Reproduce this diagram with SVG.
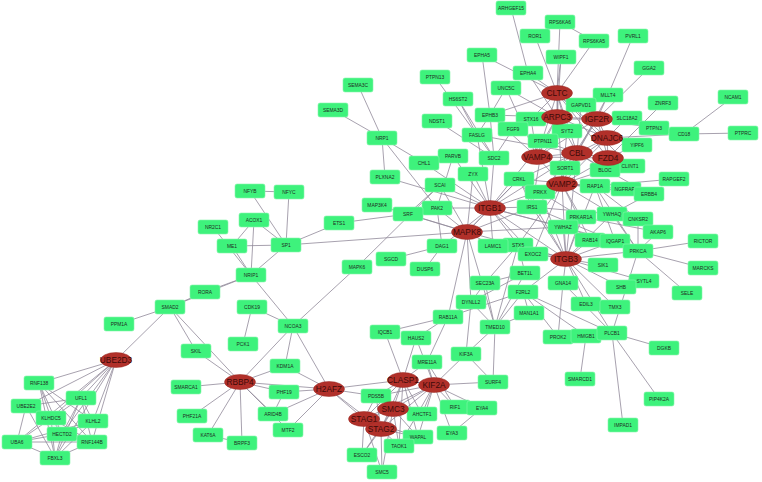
<svg xmlns="http://www.w3.org/2000/svg" width="762" height="482" viewBox="0 0 762 482">
<style>
.e line{stroke:#918999;stroke-width:0.8}
.n rect{fill:#3ef27c;stroke:#86f5ab;stroke-width:0.6}
.n text{font-family:"Liberation Sans",Arial,sans-serif;font-size:4.9px;fill:#1e2a22;text-anchor:middle}
.h ellipse{fill:#b1302a;stroke:#9a2822;stroke-width:0.5}
.h text{font-family:"Liberation Sans",Arial,sans-serif;font-size:8.3px;fill:#3d0a08;text-anchor:middle}
</style>
<rect width="762" height="482" fill="#ffffff"/>
<g id="connectors" class="e">
<line x1="511" y1="8" x2="528" y2="73"/><line x1="535" y1="36" x2="557" y2="93"/><line x1="560" y1="22" x2="557" y2="93"/><line x1="560" y1="22" x2="594" y2="41"/><line x1="594" y1="41" x2="557" y2="93"/><line x1="561" y1="57" x2="557" y2="93"/><line x1="561" y1="57" x2="557" y2="117"/><line x1="528" y1="73" x2="557" y2="93"/><line x1="528" y1="73" x2="557" y2="117"/><line x1="633" y1="36" x2="608" y2="95"/><line x1="649" y1="68" x2="597" y2="119"/><line x1="608" y1="95" x2="597" y2="119"/><line x1="608" y1="95" x2="577" y2="153"/><line x1="663" y1="103" x2="608" y2="158"/><line x1="733" y1="97" x2="684" y2="134"/><line x1="684" y1="134" x2="743" y2="133"/><line x1="684" y1="134" x2="607" y2="138"/><line x1="654" y1="128" x2="597" y2="119"/><line x1="627" y1="118" x2="597" y2="119"/><line x1="627" y1="118" x2="607" y2="138"/><line x1="482" y1="55" x2="490" y2="115"/><line x1="482" y1="55" x2="557" y2="93"/><line x1="506" y1="88" x2="490" y2="115"/><line x1="506" y1="88" x2="537" y2="157"/><line x1="506" y1="88" x2="557" y2="117"/><line x1="435" y1="77" x2="477" y2="135"/><line x1="458" y1="99" x2="477" y2="135"/><line x1="458" y1="99" x2="494" y2="158"/><line x1="437" y1="121" x2="494" y2="158"/><line x1="490" y1="115" x2="477" y2="135"/><line x1="490" y1="115" x2="494" y2="158"/><line x1="490" y1="115" x2="557" y2="93"/><line x1="490" y1="115" x2="557" y2="117"/><line x1="490" y1="115" x2="537" y2="157"/><line x1="477" y1="135" x2="490" y2="208"/><line x1="477" y1="135" x2="577" y2="153"/><line x1="513" y1="129" x2="494" y2="158"/><line x1="513" y1="129" x2="557" y2="117"/><line x1="531" y1="119" x2="557" y2="93"/><line x1="531" y1="119" x2="537" y2="157"/><line x1="531" y1="119" x2="597" y2="119"/><line x1="581" y1="105" x2="557" y2="93"/><line x1="581" y1="105" x2="597" y2="119"/><line x1="581" y1="105" x2="577" y2="153"/><line x1="567" y1="131" x2="557" y2="93"/><line x1="567" y1="131" x2="537" y2="157"/><line x1="567" y1="131" x2="562" y2="184"/><line x1="543" y1="141" x2="577" y2="153"/><line x1="543" y1="141" x2="490" y2="208"/><line x1="543" y1="141" x2="532" y2="207"/><line x1="543" y1="141" x2="557" y2="117"/><line x1="557" y1="117" x2="557" y2="93"/><line x1="557" y1="117" x2="597" y2="119"/><line x1="557" y1="117" x2="577" y2="153"/><line x1="557" y1="117" x2="537" y2="157"/><line x1="557" y1="117" x2="607" y2="138"/><line x1="557" y1="93" x2="597" y2="119"/><line x1="557" y1="93" x2="577" y2="153"/><line x1="557" y1="93" x2="607" y2="138"/><line x1="557" y1="93" x2="537" y2="157"/><line x1="557" y1="93" x2="562" y2="184"/><line x1="557" y1="93" x2="608" y2="158"/><line x1="597" y1="119" x2="607" y2="138"/><line x1="597" y1="119" x2="577" y2="153"/><line x1="597" y1="119" x2="537" y2="157"/><line x1="597" y1="119" x2="608" y2="158"/><line x1="597" y1="119" x2="565" y2="168"/><line x1="607" y1="138" x2="577" y2="153"/><line x1="607" y1="138" x2="608" y2="158"/><line x1="607" y1="138" x2="562" y2="184"/><line x1="607" y1="138" x2="637" y2="145"/><line x1="607" y1="138" x2="565" y2="168"/><line x1="577" y1="153" x2="537" y2="157"/><line x1="577" y1="153" x2="608" y2="158"/><line x1="577" y1="153" x2="562" y2="184"/><line x1="577" y1="153" x2="519" y2="179"/><line x1="577" y1="153" x2="490" y2="208"/><line x1="577" y1="153" x2="566" y2="259"/><line x1="577" y1="153" x2="540" y2="192"/><line x1="537" y1="157" x2="562" y2="184"/><line x1="537" y1="157" x2="565" y2="168"/><line x1="537" y1="157" x2="608" y2="158"/><line x1="608" y1="158" x2="562" y2="184"/><line x1="608" y1="158" x2="630" y2="166"/><line x1="608" y1="158" x2="637" y2="145"/><line x1="630" y1="166" x2="557" y2="93"/><line x1="605" y1="170" x2="577" y2="153"/><line x1="605" y1="170" x2="562" y2="184"/><line x1="565" y1="168" x2="562" y2="184"/><line x1="562" y1="184" x2="540" y2="192"/><line x1="562" y1="184" x2="595" y2="186"/><line x1="562" y1="184" x2="626" y2="189"/><line x1="562" y1="184" x2="649" y2="194"/><line x1="562" y1="184" x2="566" y2="259"/><line x1="562" y1="184" x2="490" y2="208"/><line x1="562" y1="184" x2="581" y2="217"/><line x1="562" y1="184" x2="533" y2="254"/><line x1="562" y1="184" x2="518" y2="245"/><line x1="562" y1="184" x2="612" y2="214"/><line x1="595" y1="186" x2="674" y2="179"/><line x1="595" y1="186" x2="519" y2="179"/><line x1="595" y1="186" x2="566" y2="259"/><line x1="595" y1="186" x2="638" y2="219"/><line x1="595" y1="186" x2="615" y2="241"/><line x1="595" y1="186" x2="638" y2="251"/><line x1="649" y1="194" x2="577" y2="153"/><line x1="649" y1="194" x2="612" y2="214"/><line x1="612" y1="214" x2="638" y2="251"/><line x1="612" y1="214" x2="638" y2="219"/><line x1="612" y1="214" x2="532" y2="207"/><line x1="612" y1="214" x2="566" y2="259"/><line x1="638" y1="219" x2="638" y2="251"/><line x1="658" y1="232" x2="638" y2="251"/><line x1="658" y1="232" x2="581" y2="217"/><line x1="581" y1="217" x2="540" y2="192"/><line x1="581" y1="217" x2="566" y2="259"/><line x1="519" y1="179" x2="490" y2="208"/><line x1="519" y1="179" x2="532" y2="207"/><line x1="519" y1="179" x2="467" y2="232"/><line x1="519" y1="179" x2="566" y2="259"/><line x1="540" y1="192" x2="566" y2="259"/><line x1="532" y1="207" x2="490" y2="208"/><line x1="532" y1="207" x2="566" y2="259"/><line x1="532" y1="207" x2="467" y2="232"/><line x1="532" y1="207" x2="638" y2="251"/><line x1="563" y1="227" x2="566" y2="259"/><line x1="563" y1="227" x2="490" y2="208"/><line x1="563" y1="227" x2="467" y2="232"/><line x1="563" y1="227" x2="638" y2="251"/><line x1="590" y1="240" x2="566" y2="259"/><line x1="590" y1="240" x2="562" y2="184"/><line x1="615" y1="241" x2="566" y2="259"/><line x1="615" y1="241" x2="638" y2="251"/><line x1="615" y1="241" x2="490" y2="208"/><line x1="638" y1="251" x2="703" y2="241"/><line x1="638" y1="251" x2="703" y2="268"/><line x1="638" y1="251" x2="687" y2="293"/><line x1="638" y1="251" x2="612" y2="333"/><line x1="638" y1="251" x2="566" y2="259"/><line x1="603" y1="265" x2="566" y2="259"/><line x1="621" y1="287" x2="566" y2="259"/><line x1="644" y1="281" x2="566" y2="259"/><line x1="615" y1="307" x2="566" y2="259"/><line x1="586" y1="304" x2="566" y2="259"/><line x1="563" y1="283" x2="566" y2="259"/><line x1="563" y1="283" x2="612" y2="333"/><line x1="563" y1="283" x2="558" y2="337"/><line x1="566" y1="259" x2="533" y2="254"/><line x1="566" y1="259" x2="518" y2="245"/><line x1="566" y1="259" x2="523" y2="292"/><line x1="566" y1="259" x2="490" y2="208"/><line x1="566" y1="259" x2="467" y2="232"/><line x1="566" y1="259" x2="612" y2="333"/><line x1="612" y1="333" x2="664" y2="348"/><line x1="612" y1="333" x2="659" y2="399"/><line x1="612" y1="333" x2="623" y2="425"/><line x1="612" y1="333" x2="523" y2="292"/><line x1="586" y1="336" x2="580" y2="379"/><line x1="586" y1="336" x2="523" y2="292"/><line x1="558" y1="337" x2="523" y2="292"/><line x1="523" y1="292" x2="529" y2="313"/><line x1="523" y1="292" x2="495" y2="327"/><line x1="525" y1="273" x2="518" y2="245"/><line x1="525" y1="273" x2="485" y2="283"/><line x1="525" y1="273" x2="495" y2="327"/><line x1="518" y1="245" x2="485" y2="283"/><line x1="518" y1="245" x2="495" y2="327"/><line x1="518" y1="245" x2="490" y2="208"/><line x1="533" y1="254" x2="490" y2="208"/><line x1="485" y1="283" x2="495" y2="327"/><line x1="485" y1="283" x2="471" y2="302"/><line x1="493" y1="246" x2="490" y2="208"/><line x1="493" y1="246" x2="467" y2="232"/><line x1="493" y1="246" x2="566" y2="259"/><line x1="442" y1="246" x2="391" y2="259"/><line x1="442" y1="246" x2="425" y2="269"/><line x1="442" y1="246" x2="490" y2="208"/><line x1="442" y1="246" x2="437" y2="208"/><line x1="437" y1="208" x2="490" y2="208"/><line x1="437" y1="208" x2="467" y2="232"/><line x1="437" y1="208" x2="408" y2="214"/><line x1="437" y1="208" x2="453" y2="156"/><line x1="437" y1="208" x2="382" y2="138"/><line x1="440" y1="185" x2="408" y2="214"/><line x1="440" y1="185" x2="490" y2="208"/><line x1="440" y1="185" x2="467" y2="232"/><line x1="473" y1="174" x2="490" y2="208"/><line x1="473" y1="174" x2="467" y2="232"/><line x1="453" y1="156" x2="490" y2="208"/><line x1="424" y1="163" x2="382" y2="138"/><line x1="424" y1="163" x2="490" y2="208"/><line x1="494" y1="158" x2="490" y2="208"/><line x1="494" y1="158" x2="477" y2="135"/><line x1="408" y1="214" x2="467" y2="232"/><line x1="408" y1="214" x2="339" y2="223"/><line x1="377" y1="205" x2="467" y2="232"/><line x1="385" y1="177" x2="382" y2="138"/><line x1="385" y1="177" x2="490" y2="208"/><line x1="382" y1="138" x2="358" y2="85"/><line x1="382" y1="138" x2="333" y2="110"/><line x1="467" y1="232" x2="286" y2="245"/><line x1="467" y1="232" x2="490" y2="208"/><line x1="467" y1="232" x2="448" y2="317"/><line x1="467" y1="232" x2="471" y2="302"/><line x1="467" y1="232" x2="495" y2="327"/><line x1="357" y1="267" x2="440" y2="185"/><line x1="357" y1="267" x2="293" y2="326"/><line x1="286" y1="245" x2="250" y2="191"/><line x1="286" y1="245" x2="289" y2="192"/><line x1="286" y1="245" x2="232" y2="246"/><line x1="286" y1="245" x2="251" y2="275"/><line x1="286" y1="245" x2="339" y2="223"/><line x1="286" y1="245" x2="254" y2="220"/><line x1="250" y1="191" x2="289" y2="192"/><line x1="254" y1="220" x2="232" y2="246"/><line x1="254" y1="220" x2="251" y2="275"/><line x1="213" y1="227" x2="251" y2="275"/><line x1="232" y1="246" x2="251" y2="275"/><line x1="251" y1="275" x2="205" y2="292"/><line x1="251" y1="275" x2="170" y2="307"/><line x1="251" y1="275" x2="293" y2="326"/><line x1="205" y1="292" x2="170" y2="307"/><line x1="170" y1="307" x2="119" y2="324"/><line x1="170" y1="307" x2="116" y2="360"/><line x1="170" y1="307" x2="196" y2="351"/><line x1="170" y1="307" x2="240" y2="382"/><line x1="252" y1="307" x2="243" y2="344"/><line x1="252" y1="307" x2="293" y2="326"/><line x1="293" y1="326" x2="240" y2="382"/><line x1="293" y1="326" x2="329" y2="389"/><line x1="293" y1="326" x2="285" y2="366"/><line x1="196" y1="351" x2="240" y2="382"/><line x1="240" y1="382" x2="186" y2="387"/><line x1="240" y1="382" x2="192" y2="416"/><line x1="240" y1="382" x2="208" y2="435"/><line x1="240" y1="382" x2="242" y2="443"/><line x1="240" y1="382" x2="273" y2="414"/><line x1="240" y1="382" x2="284" y2="392"/><line x1="240" y1="382" x2="285" y2="366"/><line x1="240" y1="382" x2="329" y2="389"/><line x1="240" y1="382" x2="288" y2="430"/><line x1="329" y1="389" x2="285" y2="366"/><line x1="329" y1="389" x2="284" y2="392"/><line x1="329" y1="389" x2="288" y2="430"/><line x1="329" y1="389" x2="273" y2="414"/><line x1="329" y1="389" x2="403" y2="380"/><line x1="329" y1="389" x2="364" y2="419"/><line x1="329" y1="389" x2="381" y2="429"/><line x1="329" y1="389" x2="376" y2="396"/><line x1="284" y1="392" x2="273" y2="414"/><line x1="208" y1="435" x2="242" y2="443"/><line x1="116" y1="360" x2="39" y2="383"/><line x1="116" y1="360" x2="81" y2="398"/><line x1="116" y1="360" x2="51" y2="418"/><line x1="116" y1="360" x2="93" y2="421"/><line x1="116" y1="360" x2="62" y2="434"/><line x1="116" y1="360" x2="17" y2="442"/><line x1="116" y1="360" x2="92" y2="442"/><line x1="116" y1="360" x2="55" y2="458"/><line x1="116" y1="360" x2="26" y2="406"/><line x1="39" y1="383" x2="51" y2="418"/><line x1="39" y1="383" x2="62" y2="434"/><line x1="39" y1="383" x2="93" y2="421"/><line x1="39" y1="383" x2="55" y2="458"/><line x1="39" y1="383" x2="92" y2="442"/><line x1="26" y1="406" x2="17" y2="442"/><line x1="26" y1="406" x2="51" y2="418"/><line x1="26" y1="406" x2="55" y2="458"/><line x1="26" y1="406" x2="81" y2="398"/><line x1="81" y1="398" x2="17" y2="442"/><line x1="81" y1="398" x2="93" y2="421"/><line x1="81" y1="398" x2="62" y2="434"/><line x1="81" y1="398" x2="55" y2="458"/><line x1="81" y1="398" x2="92" y2="442"/><line x1="51" y1="418" x2="62" y2="434"/><line x1="51" y1="418" x2="55" y2="458"/><line x1="51" y1="418" x2="92" y2="442"/><line x1="93" y1="421" x2="62" y2="434"/><line x1="93" y1="421" x2="55" y2="458"/><line x1="93" y1="421" x2="17" y2="442"/><line x1="62" y1="434" x2="17" y2="442"/><line x1="62" y1="434" x2="55" y2="458"/><line x1="62" y1="434" x2="92" y2="442"/><line x1="17" y1="442" x2="92" y2="442"/><line x1="17" y1="442" x2="55" y2="458"/><line x1="92" y1="442" x2="55" y2="458"/><line x1="403" y1="380" x2="434" y2="385"/><line x1="403" y1="380" x2="427" y2="362"/><line x1="403" y1="380" x2="385" y2="332"/><line x1="403" y1="380" x2="416" y2="338"/><line x1="403" y1="380" x2="393" y2="409"/><line x1="403" y1="380" x2="364" y2="419"/><line x1="403" y1="380" x2="381" y2="429"/><line x1="403" y1="380" x2="376" y2="396"/><line x1="403" y1="380" x2="422" y2="414"/><line x1="403" y1="380" x2="418" y2="437"/><line x1="403" y1="380" x2="399" y2="446"/><line x1="434" y1="385" x2="427" y2="362"/><line x1="434" y1="385" x2="466" y2="354"/><line x1="434" y1="385" x2="493" y2="382"/><line x1="434" y1="385" x2="455" y2="407"/><line x1="434" y1="385" x2="482" y2="408"/><line x1="434" y1="385" x2="452" y2="433"/><line x1="434" y1="385" x2="422" y2="414"/><line x1="434" y1="385" x2="418" y2="437"/><line x1="434" y1="385" x2="393" y2="409"/><line x1="434" y1="385" x2="381" y2="429"/><line x1="434" y1="385" x2="399" y2="446"/><line x1="434" y1="385" x2="376" y2="396"/><line x1="434" y1="385" x2="416" y2="338"/><line x1="434" y1="385" x2="364" y2="419"/><line x1="393" y1="409" x2="364" y2="419"/><line x1="393" y1="409" x2="381" y2="429"/><line x1="393" y1="409" x2="376" y2="396"/><line x1="393" y1="409" x2="418" y2="437"/><line x1="393" y1="409" x2="362" y2="455"/><line x1="393" y1="409" x2="382" y2="472"/><line x1="393" y1="409" x2="422" y2="414"/><line x1="393" y1="409" x2="399" y2="446"/><line x1="364" y1="419" x2="381" y2="429"/><line x1="364" y1="419" x2="376" y2="396"/><line x1="364" y1="419" x2="362" y2="455"/><line x1="364" y1="419" x2="382" y2="472"/><line x1="364" y1="419" x2="418" y2="437"/><line x1="381" y1="429" x2="362" y2="455"/><line x1="381" y1="429" x2="382" y2="472"/><line x1="381" y1="429" x2="418" y2="437"/><line x1="381" y1="429" x2="399" y2="446"/><line x1="381" y1="429" x2="376" y2="396"/><line x1="482" y1="408" x2="452" y2="433"/><line x1="455" y1="407" x2="427" y2="362"/><line x1="427" y1="362" x2="448" y2="317"/><line x1="466" y1="354" x2="493" y2="382"/><line x1="466" y1="354" x2="495" y2="327"/><line x1="466" y1="354" x2="471" y2="302"/><line x1="495" y1="327" x2="493" y2="382"/><line x1="495" y1="327" x2="471" y2="302"/><line x1="495" y1="327" x2="529" y2="313"/><line x1="448" y1="317" x2="385" y2="332"/><line x1="448" y1="317" x2="471" y2="302"/><line x1="448" y1="317" x2="523" y2="292"/><line x1="448" y1="317" x2="416" y2="338"/><line x1="471" y1="302" x2="525" y2="273"/>
</g>
<g id="nodes">
<g id="n-ARHGEF15" class="n"><rect x="496" y="1" width="30" height="14" rx="2"/><text x="511" y="9.7">ARHGEF15</text></g>
<g id="n-RPS6KA6" class="n"><rect x="545" y="15" width="30" height="14" rx="2"/><text x="560" y="23.7">RPS6KA6</text></g>
<g id="n-ROR1" class="n"><rect x="520" y="29" width="30" height="14" rx="2"/><text x="535" y="37.7">ROR1</text></g>
<g id="n-RPS6KA5" class="n"><rect x="579" y="34" width="30" height="14" rx="2"/><text x="594" y="42.7">RPS6KA5</text></g>
<g id="n-PVRL1" class="n"><rect x="618" y="29" width="30" height="14" rx="2"/><text x="633" y="37.7">PVRL1</text></g>
<g id="n-WIPF1" class="n"><rect x="546" y="50" width="30" height="14" rx="2"/><text x="561" y="58.7">WIPF1</text></g>
<g id="n-EPHA5" class="n"><rect x="467" y="48" width="30" height="14" rx="2"/><text x="482" y="56.7">EPHA5</text></g>
<g id="n-GGA2" class="n"><rect x="634" y="61" width="30" height="14" rx="2"/><text x="649" y="69.7">GGA2</text></g>
<g id="n-EPHA4" class="n"><rect x="513" y="66" width="30" height="14" rx="2"/><text x="528" y="74.7">EPHA4</text></g>
<g id="n-PTPN13" class="n"><rect x="420" y="70" width="30" height="14" rx="2"/><text x="435" y="78.7">PTPN13</text></g>
<g id="n-SEMA3C" class="n"><rect x="343" y="78" width="30" height="14" rx="2"/><text x="358" y="86.7">SEMA3C</text></g>
<g id="n-UNC5C" class="n"><rect x="491" y="81" width="30" height="14" rx="2"/><text x="506" y="89.7">UNC5C</text></g>
<g id="n-MLLT4" class="n"><rect x="593" y="88" width="30" height="14" rx="2"/><text x="608" y="96.7">MLLT4</text></g>
<g id="n-NCAM1" class="n"><rect x="718" y="90" width="30" height="14" rx="2"/><text x="733" y="98.7">NCAM1</text></g>
<g id="n-HS6ST2" class="n"><rect x="443" y="92" width="30" height="14" rx="2"/><text x="458" y="100.7">HS6ST2</text></g>
<g id="n-GAPVD1" class="n"><rect x="566" y="98" width="30" height="14" rx="2"/><text x="581" y="106.7">GAPVD1</text></g>
<g id="n-ZNRF3" class="n"><rect x="648" y="96" width="30" height="14" rx="2"/><text x="663" y="104.7">ZNRF3</text></g>
<g id="n-SEMA3D" class="n"><rect x="318" y="103" width="30" height="14" rx="2"/><text x="333" y="111.7">SEMA3D</text></g>
<g id="n-EPHB3" class="n"><rect x="475" y="108" width="30" height="14" rx="2"/><text x="490" y="116.7">EPHB3</text></g>
<g id="n-STX16" class="n"><rect x="516" y="112" width="30" height="14" rx="2"/><text x="531" y="120.7">STX16</text></g>
<g id="n-SLC18A2" class="n"><rect x="612" y="111" width="30" height="14" rx="2"/><text x="627" y="119.7">SLC18A2</text></g>
<g id="n-NDST1" class="n"><rect x="422" y="114" width="30" height="14" rx="2"/><text x="437" y="122.7">NDST1</text></g>
<g id="n-FGF9" class="n"><rect x="498" y="122" width="30" height="14" rx="2"/><text x="513" y="130.7">FGF9</text></g>
<g id="n-SYT2" class="n"><rect x="552" y="124" width="30" height="14" rx="2"/><text x="567" y="132.7">SYT2</text></g>
<g id="n-PTPN3" class="n"><rect x="639" y="121" width="30" height="14" rx="2"/><text x="654" y="129.7">PTPN3</text></g>
<g id="n-CD18" class="n"><rect x="669" y="127" width="30" height="14" rx="2"/><text x="684" y="135.7">CD18</text></g>
<g id="n-PTPRC" class="n"><rect x="728" y="126" width="30" height="14" rx="2"/><text x="743" y="134.7">PTPRC</text></g>
<g id="n-FASLG" class="n"><rect x="462" y="128" width="30" height="14" rx="2"/><text x="477" y="136.7">FASLG</text></g>
<g id="n-NRP1" class="n"><rect x="367" y="131" width="30" height="14" rx="2"/><text x="382" y="139.7">NRP1</text></g>
<g id="n-PTPN11" class="n"><rect x="528" y="134" width="30" height="14" rx="2"/><text x="543" y="142.7">PTPN11</text></g>
<g id="n-YIPF6" class="n"><rect x="622" y="138" width="30" height="14" rx="2"/><text x="637" y="146.7">YIPF6</text></g>
<g id="n-PARVB" class="n"><rect x="438" y="149" width="30" height="14" rx="2"/><text x="453" y="157.7">PARVB</text></g>
<g id="n-SDC2" class="n"><rect x="479" y="151" width="30" height="14" rx="2"/><text x="494" y="159.7">SDC2</text></g>
<g id="n-CHL1" class="n"><rect x="409" y="156" width="30" height="14" rx="2"/><text x="424" y="164.7">CHL1</text></g>
<g id="n-CLINT1" class="n"><rect x="615" y="159" width="30" height="14" rx="2"/><text x="630" y="167.7">CLINT1</text></g>
<g id="n-SORT1" class="n"><rect x="550" y="161" width="30" height="14" rx="2"/><text x="565" y="169.7">SORT1</text></g>
<g id="n-BLOC" class="n"><rect x="590" y="163" width="30" height="14" rx="2"/><text x="605" y="171.7">BLOC</text></g>
<g id="n-ZYX" class="n"><rect x="458" y="167" width="30" height="14" rx="2"/><text x="473" y="175.7">ZYX</text></g>
<g id="n-PLXNA2" class="n"><rect x="370" y="170" width="30" height="14" rx="2"/><text x="385" y="178.7">PLXNA2</text></g>
<g id="n-CRKL" class="n"><rect x="504" y="172" width="30" height="14" rx="2"/><text x="519" y="180.7">CRKL</text></g>
<g id="n-RAPGEF2" class="n"><rect x="659" y="172" width="30" height="14" rx="2"/><text x="674" y="180.7">RAPGEF2</text></g>
<g id="n-SCAI" class="n"><rect x="425" y="178" width="30" height="14" rx="2"/><text x="440" y="186.7">SCAI</text></g>
<g id="n-RAP1A" class="n"><rect x="580" y="179" width="30" height="14" rx="2"/><text x="595" y="187.7">RAP1A</text></g>
<g id="n-NGFRAP1" class="n"><rect x="611" y="182" width="30" height="14" rx="2"/><text x="626" y="190.7">NGFRAP1</text></g>
<g id="n-NFYB" class="n"><rect x="235" y="184" width="30" height="14" rx="2"/><text x="250" y="192.7">NFYB</text></g>
<g id="n-NFYC" class="n"><rect x="274" y="185" width="30" height="14" rx="2"/><text x="289" y="193.7">NFYC</text></g>
<g id="n-PRKX" class="n"><rect x="525" y="185" width="30" height="14" rx="2"/><text x="540" y="193.7">PRKX</text></g>
<g id="n-ERBB4" class="n"><rect x="634" y="187" width="30" height="14" rx="2"/><text x="649" y="195.7">ERBB4</text></g>
<g id="n-MAP3K4" class="n"><rect x="362" y="198" width="30" height="14" rx="2"/><text x="377" y="206.7">MAP3K4</text></g>
<g id="n-IRS1" class="n"><rect x="517" y="200" width="30" height="14" rx="2"/><text x="532" y="208.7">IRS1</text></g>
<g id="n-PAK2" class="n"><rect x="422" y="201" width="30" height="14" rx="2"/><text x="437" y="209.7">PAK2</text></g>
<g id="n-SRF" class="n"><rect x="393" y="207" width="30" height="14" rx="2"/><text x="408" y="215.7">SRF</text></g>
<g id="n-YWHAQ" class="n"><rect x="597" y="207" width="30" height="14" rx="2"/><text x="612" y="215.7">YWHAQ</text></g>
<g id="n-PRKAR1A" class="n"><rect x="566" y="210" width="30" height="14" rx="2"/><text x="581" y="218.7">PRKAR1A</text></g>
<g id="n-CNKSR2" class="n"><rect x="623" y="212" width="30" height="14" rx="2"/><text x="638" y="220.7">CNKSR2</text></g>
<g id="n-ACOX1" class="n"><rect x="239" y="213" width="30" height="14" rx="2"/><text x="254" y="221.7">ACOX1</text></g>
<g id="n-ETS1" class="n"><rect x="324" y="216" width="30" height="14" rx="2"/><text x="339" y="224.7">ETS1</text></g>
<g id="n-NR2C1" class="n"><rect x="198" y="220" width="30" height="14" rx="2"/><text x="213" y="228.7">NR2C1</text></g>
<g id="n-YWHAZ" class="n"><rect x="548" y="220" width="30" height="14" rx="2"/><text x="563" y="228.7">YWHAZ</text></g>
<g id="n-AKAP6" class="n"><rect x="643" y="225" width="30" height="14" rx="2"/><text x="658" y="233.7">AKAP6</text></g>
<g id="n-RAB14" class="n"><rect x="575" y="233" width="30" height="14" rx="2"/><text x="590" y="241.7">RAB14</text></g>
<g id="n-IQGAP1" class="n"><rect x="600" y="234" width="30" height="14" rx="2"/><text x="615" y="242.7">IQGAP1</text></g>
<g id="n-RICTOR" class="n"><rect x="688" y="234" width="30" height="14" rx="2"/><text x="703" y="242.7">RICTOR</text></g>
<g id="n-SP1" class="n"><rect x="271" y="238" width="30" height="14" rx="2"/><text x="286" y="246.7">SP1</text></g>
<g id="n-STX5" class="n"><rect x="503" y="238" width="30" height="14" rx="2"/><text x="518" y="246.7">STX5</text></g>
<g id="n-ME1" class="n"><rect x="217" y="239" width="30" height="14" rx="2"/><text x="232" y="247.7">ME1</text></g>
<g id="n-DAG1" class="n"><rect x="427" y="239" width="30" height="14" rx="2"/><text x="442" y="247.7">DAG1</text></g>
<g id="n-LAMC1" class="n"><rect x="478" y="239" width="30" height="14" rx="2"/><text x="493" y="247.7">LAMC1</text></g>
<g id="n-PRKCA" class="n"><rect x="623" y="244" width="30" height="14" rx="2"/><text x="638" y="252.7">PRKCA</text></g>
<g id="n-EXOC2" class="n"><rect x="518" y="247" width="30" height="14" rx="2"/><text x="533" y="255.7">EXOC2</text></g>
<g id="n-SGCD" class="n"><rect x="376" y="252" width="30" height="14" rx="2"/><text x="391" y="260.7">SGCD</text></g>
<g id="n-SIK1" class="n"><rect x="588" y="258" width="30" height="14" rx="2"/><text x="603" y="266.7">SIK1</text></g>
<g id="n-MAPK6" class="n"><rect x="342" y="260" width="30" height="14" rx="2"/><text x="357" y="268.7">MAPK6</text></g>
<g id="n-MARCKS" class="n"><rect x="688" y="261" width="30" height="14" rx="2"/><text x="703" y="269.7">MARCKS</text></g>
<g id="n-DUSP6" class="n"><rect x="410" y="262" width="30" height="14" rx="2"/><text x="425" y="270.7">DUSP6</text></g>
<g id="n-BET1L" class="n"><rect x="510" y="266" width="30" height="14" rx="2"/><text x="525" y="274.7">BET1L</text></g>
<g id="n-NRIP1" class="n"><rect x="236" y="268" width="30" height="14" rx="2"/><text x="251" y="276.7">NRIP1</text></g>
<g id="n-SYTL4" class="n"><rect x="629" y="274" width="30" height="14" rx="2"/><text x="644" y="282.7">SYTL4</text></g>
<g id="n-SEC23A" class="n"><rect x="470" y="276" width="30" height="14" rx="2"/><text x="485" y="284.7">SEC23A</text></g>
<g id="n-GNA14" class="n"><rect x="548" y="276" width="30" height="14" rx="2"/><text x="563" y="284.7">GNA14</text></g>
<g id="n-SHB" class="n"><rect x="606" y="280" width="30" height="14" rx="2"/><text x="621" y="288.7">SHB</text></g>
<g id="n-RORA" class="n"><rect x="190" y="285" width="30" height="14" rx="2"/><text x="205" y="293.7">RORA</text></g>
<g id="n-F2RL2" class="n"><rect x="508" y="285" width="30" height="14" rx="2"/><text x="523" y="293.7">F2RL2</text></g>
<g id="n-SELE" class="n"><rect x="672" y="286" width="30" height="14" rx="2"/><text x="687" y="294.7">SELE</text></g>
<g id="n-DYNLL2" class="n"><rect x="456" y="295" width="30" height="14" rx="2"/><text x="471" y="303.7">DYNLL2</text></g>
<g id="n-EDIL3" class="n"><rect x="571" y="297" width="30" height="14" rx="2"/><text x="586" y="305.7">EDIL3</text></g>
<g id="n-TMX3" class="n"><rect x="600" y="300" width="30" height="14" rx="2"/><text x="615" y="308.7">TMX3</text></g>
<g id="n-SMAD2" class="n"><rect x="155" y="300" width="30" height="14" rx="2"/><text x="170" y="308.7">SMAD2</text></g>
<g id="n-CDK19" class="n"><rect x="237" y="300" width="30" height="14" rx="2"/><text x="252" y="308.7">CDK19</text></g>
<g id="n-MAN1A1" class="n"><rect x="514" y="306" width="30" height="14" rx="2"/><text x="529" y="314.7">MAN1A1</text></g>
<g id="n-RAB11A" class="n"><rect x="433" y="310" width="30" height="14" rx="2"/><text x="448" y="318.7">RAB11A</text></g>
<g id="n-PPM1A" class="n"><rect x="104" y="317" width="30" height="14" rx="2"/><text x="119" y="325.7">PPM1A</text></g>
<g id="n-NCOA3" class="n"><rect x="278" y="319" width="30" height="14" rx="2"/><text x="293" y="327.7">NCOA3</text></g>
<g id="n-TMED10" class="n"><rect x="480" y="320" width="30" height="14" rx="2"/><text x="495" y="328.7">TMED10</text></g>
<g id="n-IQCB1" class="n"><rect x="370" y="325" width="30" height="14" rx="2"/><text x="385" y="333.7">IQCB1</text></g>
<g id="n-PROK2" class="n"><rect x="543" y="330" width="30" height="14" rx="2"/><text x="558" y="338.7">PROK2</text></g>
<g id="n-HMGB1" class="n"><rect x="571" y="329" width="30" height="14" rx="2"/><text x="586" y="337.7">HMGB1</text></g>
<g id="n-PLCB1" class="n"><rect x="597" y="326" width="30" height="14" rx="2"/><text x="612" y="334.7">PLCB1</text></g>
<g id="n-HAUS2" class="n"><rect x="401" y="331" width="30" height="14" rx="2"/><text x="416" y="339.7">HAUS2</text></g>
<g id="n-PCK1" class="n"><rect x="228" y="337" width="30" height="14" rx="2"/><text x="243" y="345.7">PCK1</text></g>
<g id="n-DGKB" class="n"><rect x="649" y="341" width="30" height="14" rx="2"/><text x="664" y="349.7">DGKB</text></g>
<g id="n-SKIL" class="n"><rect x="181" y="344" width="30" height="14" rx="2"/><text x="196" y="352.7">SKIL</text></g>
<g id="n-KIF3A" class="n"><rect x="451" y="347" width="30" height="14" rx="2"/><text x="466" y="355.7">KIF3A</text></g>
<g id="n-MRE11A" class="n"><rect x="412" y="355" width="30" height="14" rx="2"/><text x="427" y="363.7">MRE11A</text></g>
<g id="n-KDM1A" class="n"><rect x="270" y="359" width="30" height="14" rx="2"/><text x="285" y="367.7">KDM1A</text></g>
<g id="n-SMARCA1" class="n"><rect x="171" y="380" width="30" height="14" rx="2"/><text x="186" y="388.7">SMARCA1</text></g>
<g id="n-SMARCD1" class="n"><rect x="565" y="372" width="30" height="14" rx="2"/><text x="580" y="380.7">SMARCD1</text></g>
<g id="n-SURF4" class="n"><rect x="478" y="375" width="30" height="14" rx="2"/><text x="493" y="383.7">SURF4</text></g>
<g id="n-RNF138" class="n"><rect x="24" y="376" width="30" height="14" rx="2"/><text x="39" y="384.7">RNF138</text></g>
<g id="n-PHF19" class="n"><rect x="269" y="385" width="30" height="14" rx="2"/><text x="284" y="393.7">PHF19</text></g>
<g id="n-PDS5B" class="n"><rect x="361" y="389" width="30" height="14" rx="2"/><text x="376" y="397.7">PDS5B</text></g>
<g id="n-UFL1" class="n"><rect x="66" y="391" width="30" height="14" rx="2"/><text x="81" y="399.7">UFL1</text></g>
<g id="n-PIP4K2A" class="n"><rect x="644" y="392" width="30" height="14" rx="2"/><text x="659" y="400.7">PIP4K2A</text></g>
<g id="n-UBE2E2" class="n"><rect x="11" y="399" width="30" height="14" rx="2"/><text x="26" y="407.7">UBE2E2</text></g>
<g id="n-RIF1" class="n"><rect x="440" y="400" width="30" height="14" rx="2"/><text x="455" y="408.7">RIF1</text></g>
<g id="n-EYA4" class="n"><rect x="467" y="401" width="30" height="14" rx="2"/><text x="482" y="409.7">EYA4</text></g>
<g id="n-AHCTF1" class="n"><rect x="407" y="407" width="30" height="14" rx="2"/><text x="422" y="415.7">AHCTF1</text></g>
<g id="n-ARID4B" class="n"><rect x="258" y="407" width="30" height="14" rx="2"/><text x="273" y="415.7">ARID4B</text></g>
<g id="n-PHF21A" class="n"><rect x="177" y="409" width="30" height="14" rx="2"/><text x="192" y="417.7">PHF21A</text></g>
<g id="n-KLHDC5" class="n"><rect x="36" y="411" width="30" height="14" rx="2"/><text x="51" y="419.7">KLHDC5</text></g>
<g id="n-KLHL2" class="n"><rect x="78" y="414" width="30" height="14" rx="2"/><text x="93" y="422.7">KLHL2</text></g>
<g id="n-IMPAD1" class="n"><rect x="608" y="418" width="30" height="14" rx="2"/><text x="623" y="426.7">IMPAD1</text></g>
<g id="n-MTF2" class="n"><rect x="273" y="423" width="30" height="14" rx="2"/><text x="288" y="431.7">MTF2</text></g>
<g id="n-EYA3" class="n"><rect x="437" y="426" width="30" height="14" rx="2"/><text x="452" y="434.7">EYA3</text></g>
<g id="n-HECTD2" class="n"><rect x="47" y="427" width="30" height="14" rx="2"/><text x="62" y="435.7">HECTD2</text></g>
<g id="n-KAT6A" class="n"><rect x="193" y="428" width="30" height="14" rx="2"/><text x="208" y="436.7">KAT6A</text></g>
<g id="n-WAPAL" class="n"><rect x="403" y="430" width="30" height="14" rx="2"/><text x="418" y="438.7">WAPAL</text></g>
<g id="n-UBA6" class="n"><rect x="2" y="435" width="30" height="14" rx="2"/><text x="17" y="443.7">UBA6</text></g>
<g id="n-RNF144B" class="n"><rect x="77" y="435" width="30" height="14" rx="2"/><text x="92" y="443.7">RNF144B</text></g>
<g id="n-BRPF3" class="n"><rect x="227" y="436" width="30" height="14" rx="2"/><text x="242" y="444.7">BRPF3</text></g>
<g id="n-TAOK1" class="n"><rect x="384" y="439" width="30" height="14" rx="2"/><text x="399" y="447.7">TAOK1</text></g>
<g id="n-ESCO2" class="n"><rect x="347" y="448" width="30" height="14" rx="2"/><text x="362" y="456.7">ESCO2</text></g>
<g id="n-FBXL3" class="n"><rect x="40" y="451" width="30" height="14" rx="2"/><text x="55" y="459.7">FBXL3</text></g>
<g id="n-SMC5" class="n"><rect x="367" y="465" width="30" height="14" rx="2"/><text x="382" y="473.7">SMC5</text></g>
<g id="n-CLTC" class="h"><ellipse cx="557" cy="93" rx="15.5" ry="7.5"/><text x="557" y="96">CLTC</text></g>
<g id="n-ARPC3" class="h"><ellipse cx="557" cy="117" rx="15.5" ry="7.5"/><text x="557" y="120">ARPC3</text></g>
<g id="n-IGF2R" class="h"><ellipse cx="597" cy="119" rx="15.5" ry="7.5"/><text x="597" y="122">IGF2R</text></g>
<g id="n-DNAJC6" class="h"><ellipse cx="607" cy="138" rx="15.5" ry="7.5"/><text x="607" y="141">DNAJC6</text></g>
<g id="n-CBL" class="h"><ellipse cx="577" cy="153" rx="15.5" ry="7.5"/><text x="577" y="156">CBL</text></g>
<g id="n-VAMP4" class="h"><ellipse cx="537" cy="157" rx="15.5" ry="7.5"/><text x="537" y="160">VAMP4</text></g>
<g id="n-FZD4" class="h"><ellipse cx="608" cy="158" rx="15.5" ry="7.5"/><text x="608" y="161">FZD4</text></g>
<g id="n-VAMP2" class="h"><ellipse cx="562" cy="184" rx="15.5" ry="7.5"/><text x="562" y="187">VAMP2</text></g>
<g id="n-ITGB1" class="h"><ellipse cx="490" cy="208" rx="15.5" ry="7.5"/><text x="490" y="211">ITGB1</text></g>
<g id="n-MAPK8" class="h"><ellipse cx="467" cy="232" rx="15.5" ry="7.5"/><text x="467" y="235">MAPK8</text></g>
<g id="n-ITGB3" class="h"><ellipse cx="566" cy="259" rx="15.5" ry="7.5"/><text x="566" y="262">ITGB3</text></g>
<g id="n-UBE2D3" class="h"><ellipse cx="116" cy="360" rx="15.5" ry="7.5"/><text x="116" y="363">UBE2D3</text></g>
<g id="n-RBBP4" class="h"><ellipse cx="240" cy="382" rx="15.5" ry="7.5"/><text x="240" y="385">RBBP4</text></g>
<g id="n-H2AFZ" class="h"><ellipse cx="329" cy="389" rx="15.5" ry="7.5"/><text x="329" y="392">H2AFZ</text></g>
<g id="n-CLASP1" class="h"><ellipse cx="403" cy="380" rx="15.5" ry="7.5"/><text x="403" y="383">CLASP1</text></g>
<g id="n-KIF2A" class="h"><ellipse cx="434" cy="385" rx="15.5" ry="7.5"/><text x="434" y="388">KIF2A</text></g>
<g id="n-SMC3" class="h"><ellipse cx="393" cy="409" rx="15.5" ry="7.5"/><text x="393" y="412">SMC3</text></g>
<g id="n-STAG1" class="h"><ellipse cx="364" cy="419" rx="15.5" ry="7.5"/><text x="364" y="422">STAG1</text></g>
<g id="n-STAG2" class="h"><ellipse cx="381" cy="429" rx="15.5" ry="7.5"/><text x="381" y="432">STAG2</text></g>
</g>
</svg>
